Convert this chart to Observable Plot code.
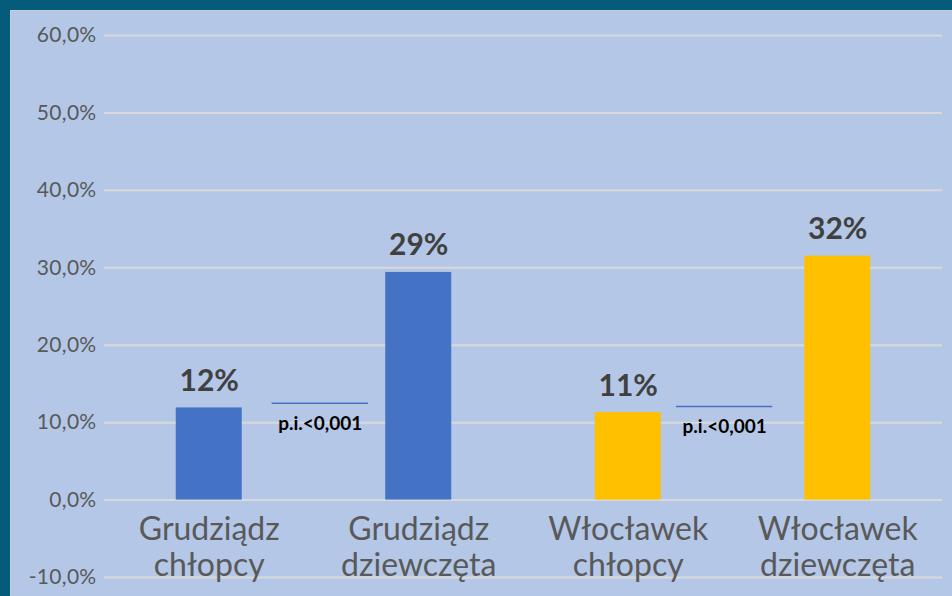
<!DOCTYPE html>
<html>
<head>
<meta charset="utf-8">
<script src="https://cdn.jsdelivr.net/npm/d3@7"></script>
<script src="https://cdn.jsdelivr.net/npm/@observablehq/plot@0.6"></script>
<style>
  html, body { margin: 0; padding: 0; width: 952px; height: 596px; overflow: hidden; background: #045b7a; }
  #panel { position: absolute; left: 10px; top: 10px; width: 942px; height: 586px; background: #b4c7e7; border-left: 1px solid #c4cfda; border-top: 1px solid #c4cfda; box-sizing: border-box; }
  #chart { position: absolute; left: 11px; top: 11px; }
  #chart svg { background: transparent; font-family: Lato, "Open Sans", sans-serif; }
  g[aria-label="category-labels"] text { letter-spacing: 0.9px; }
  g[aria-label="sig-labels"] text { letter-spacing: 0.9px; }
  g[aria-label="y-axis tick label"] text { letter-spacing: 0.3px; }
</style>
</head>
<body>
<div id="panel"></div>
<div id="chart"></div>
<script>
// Data
const cities = ["Grudziądz", "Grudziądz", "Włocławek", "Włocławek"];
const groups = ["chłopcy", "dziewczęta", "chłopcy", "dziewczęta"];
const values = [11.9, 29.4, 11.3, 31.5];
const valueLabels = ["12%", "29%", "11%", "32%"];
const cityDomain = ["Grudziądz", "Włocławek"];
const cityColors = ["#4472c4", "#ffc000"];
const yTicks = [-10, 0, 10, 20, 30, 40, 50, 60];

// significance annotations
const sigText = ["p.i.<0,001", "p.i.<0,001"];
const sigLevel = [12.5, 12.1];
const sigX1 = [0.3, 2.23];
const sigX2 = [0.76, 2.69];

const data = cities.map((c, i) => ({
  i, city: c, group: groups[i], value: values[i], label: valueLabels[i],
  cat: c + "\n" + groups[i]
}));
const sig = sigText.map((t, k) => ({
  text: t, y: sigLevel[k], x1: sigX1[k], x2: sigX2[k], xm: (sigX1[k] + sigX2[k]) / 2
}));

const halfBar = 0.1575;

const chart = Plot.plot({
  width: 941,
  height: 585,
  marginLeft: 93,
  marginRight: 10,
  marginTop: 24,
  marginBottom: 19,
  style: { background: "transparent", fontFamily: "Lato, 'Open Sans', sans-serif" },
  x: { domain: [-0.5, 3.5], axis: null },
  y: { domain: [-10, 60], ticks: yTicks },
  color: { domain: cityDomain, range: cityColors },
  marks: [
    Plot.gridY(yTicks, { stroke: "#d9d9d9", strokeOpacity: 1, strokeWidth: 2 }),
    Plot.axisY(yTicks, {
      tickSize: 0, tickPadding: 8, label: null, fontSize: 21, fill: "#595959",
      tickFormat: d => d.toFixed(1).replace(".", ",") + "%"
    }),
    Plot.rectY(data, {
      x1: d => d.i - halfBar, x2: d => d.i + halfBar,
      y1: 0, y2: "value", fill: "city"
    }),
    Plot.text(data, {
      x: "i", y: "value", text: "label", lineAnchor: "bottom", dy: -17,
      fontSize: 30, fontWeight: "bold", fill: "#404040"
    }),
    Plot.text(data, {
      ariaLabel: "category-labels",
      x: "i", y: () => 0, text: "cat", lineAnchor: "top", dy: 14,
      fontSize: 32, lineHeight: 1.13, fill: "#595959"
    }),
    Plot.ruleY(sig, { y: "y", x1: "x1", x2: "x2", stroke: "#4472c4", strokeWidth: 1.5 }),
    Plot.text(sig, {
      ariaLabel: "sig-labels",
      x: "xm", y: "y", text: "text", lineAnchor: "bottom", dy: 27,
      fontSize: 19, fontWeight: "bold", fill: "#000000"
    })
  ]
});
document.getElementById("chart").append(chart);
</script>
</body>
</html>
